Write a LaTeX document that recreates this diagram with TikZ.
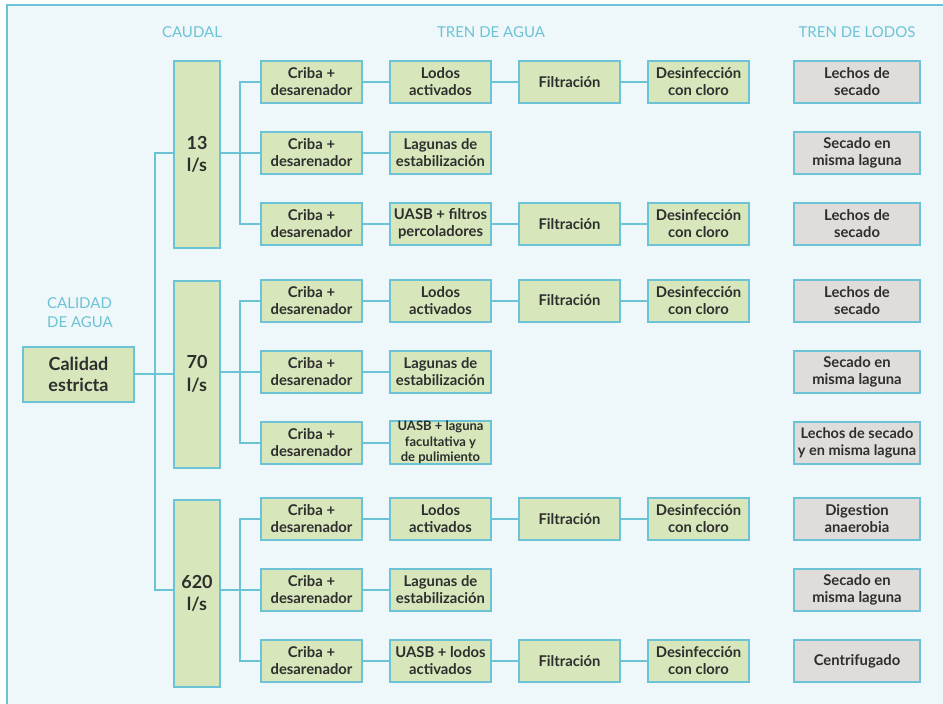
\documentclass[tikz,border=0pt]{standalone}
\usepackage{fontspec}
\setmainfont{Lato}
\usetikzlibrary{positioning}
\definecolor{marco}{HTML}{6CC3D5}
\definecolor{fondo}{HTML}{EEF7F9}
\definecolor{verde}{HTML}{D7E7BB}
\definecolor{gris}{HTML}{E0DCDA}
\definecolor{texto}{HTML}{2E2E2E}
\tikzset{
  caja/.style={draw=marco, line width=2pt, fill=verde, text=texto, align=center, inner sep=0pt,
    minimum width=101pt, minimum height=42pt, font=\bfseries\fontsize{14.8}{17}\selectfont},
  lodo/.style={caja, fill=gris, minimum width=126pt},
  caudal/.style={caja, minimum width=46pt, minimum height=187pt, font=\bfseries\fontsize{18}{22.5}\selectfont},
  flujo/.style={draw=marco, line width=2pt},
  rotulo/.style={text=marco, align=left, font=\fontsize{15}{19}\selectfont},
  apretado/.style={font=\bfseries\fontsize{13}{15.5}\selectfont}
}
\begin{document}
\begin{tikzpicture}[x=1pt,y=-1pt]
  \useasboundingbox (0,0) rectangle (943,704);
  \fill[fondo] (7,5) rectangle (950,710);
  \draw[marco, line width=2pt] (7,710) -- (7,5) -- (950,5);
  \coordinate (tronco) at (155,0);
  \coordinate (rama) at (240,0);
  \coordinate (lodos) at (857,0);

  \node[rotulo] (tcaudal) at (192,32) {CAUDAL};
  \node[rotulo] (tagua) at (491,32) {TREN DE AGUA};
  \node[rotulo] (tlodos) at (857,32) {TREN DE LODOS};
  \node[rotulo] (tcalidad) at (80,313) {CALIDAD\\DE AGUA};
  \node[caja, minimum width=111pt, minimum height=55pt, font=\bfseries\fontsize{18}{21}\selectfont]
    (calidad) at (78.5,374.5) {Calidad\\estricta};

  \foreach \g/\q in {0/13,1/70,2/620}{
    \node[caudal] (q\g) at (197,{154.5+219.5*\g}) {\q\\l/s};
    \foreach \r in {0,1,2}
      \node[caja] (cr\g\r) at (311.5,{82+218.5*\g+71*\r}) {Criba +\\desarenador};
    \node[caja, right=26pt of cr\g0] (p\g0) {Lodos\\activados};
    \node[caja, right=26pt of cr\g1] (p\g1) {Lagunas de\\estabilización};
    \node[caja, right=26pt of p\g0] (f\g0) {Filtración};
    \node[caja, right=26pt of f\g0] (d\g0) {Desinfección\\con cloro};
    \node[lodo] (l\g1) at (lodos |- cr\g1) {Secado en\\misma laguna};
    \draw[flujo] (q\g.east |- cr\g1) -- (cr\g1.west);
    \draw[flujo] (cr\g0.west) -- (rama |- cr\g0.west) -- (rama |- cr\g2.west) -- (cr\g2.west);
    \draw[flujo] (cr\g0) -- (p\g0) -- (f\g0) -- (d\g0);
    \draw[flujo] (cr\g1) -- (p\g1);
  }

  \node[caja, right=26pt of cr02] (p02) {UASB + filtros\\percoladores};
  \node[caja, apretado, right=26pt of cr12] (p12) {UASB + laguna\\facultativa y\\de pulimiento};
  \node[caja, right=26pt of cr22] (p22) {UASB + lodos\\activados};
  \foreach \g in {0,2}{
    \node[caja, right=26pt of p\g2] (f\g2) {Filtración};
    \node[caja, right=26pt of f\g2] (d\g2) {Desinfección\\con cloro};
    \draw[flujo] (p\g2) -- (f\g2) -- (d\g2);
  }
  \foreach \g in {0,1,2}
    \draw[flujo] (cr\g2) -- (p\g2);

  \node[lodo] (l00) at (lodos |- cr00) {Lechos de\\secado};
  \node[lodo] (l02) at (lodos |- cr02) {Lechos de\\secado};
  \node[lodo] (l10) at (lodos |- cr10) {Lechos de\\secado};
  \node[lodo, font=\bfseries\fontsize{14.5}{17}\selectfont] (l12) at (lodos |- cr12) {Lechos de secado\\y en misma laguna};
  \node[lodo] (l20) at (lodos |- cr20) {Digestion\\anaerobia};
  \node[lodo] (l22) at (lodos |- cr22) {Centrifugado};

  \draw[flujo] (calidad.east |- q1) -- (q1.west);
  \draw[flujo] (q0.west |- cr01) -- (tronco |- cr01) -- (tronco |- cr21) -- (q2.west |- cr21);
\end{tikzpicture}
\end{document}
